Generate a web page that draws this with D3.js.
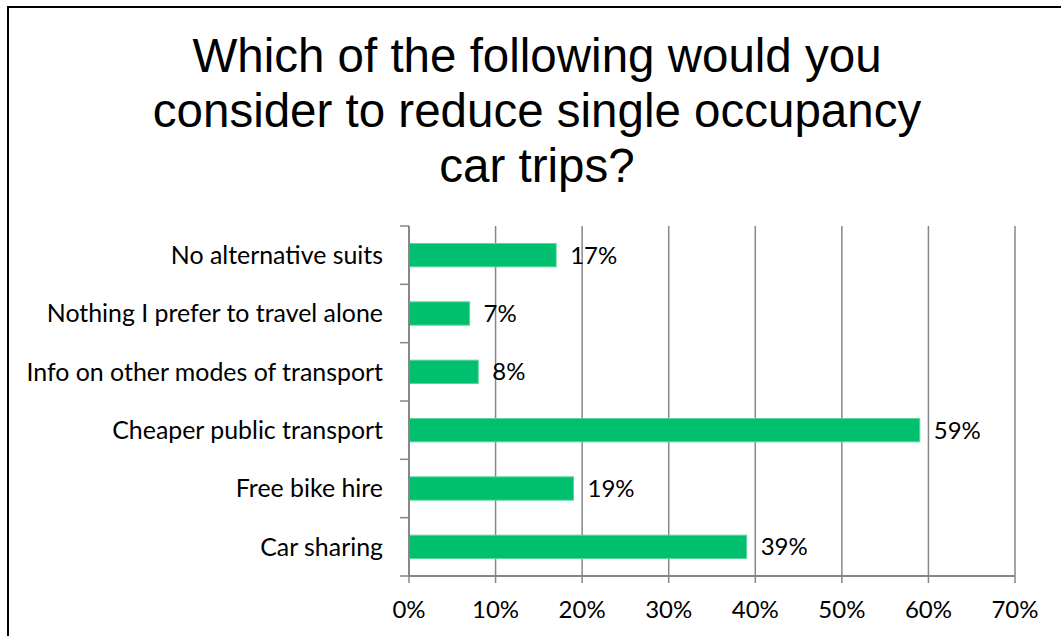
<!DOCTYPE html>
<html>
<head>
<meta charset="utf-8">
<script src="https://cdn.jsdelivr.net/npm/d3@7"></script>
<style>
  html, body { margin: 0; padding: 0; background: #fff; }
  svg { display: block; }
</style>
</head>
<body>
<svg id="chart" width="1061" height="636"></svg>
<script>
// Survey answers, top to bottom as listed
const categories = [
  "No alternative suits",
  "Nothing I prefer to travel alone",
  "Info on other modes of transport",
  "Cheaper public transport",
  "Free bike hire",
  "Car sharing"
];
const shares = [0.17, 0.07, 0.08, 0.59, 0.19, 0.39];
const valueLabels = ["17%", "7%", "8%", "59%", "19%", "39%"];
const xTicks = [0, 0.1, 0.2, 0.3, 0.4, 0.5, 0.6, 0.7];
const titleLines = [
  "Which of the following would you",
  "consider to reduce single occupancy",
  "car trips?"
];

const svg = d3.select("#chart");
const labelFont = "Lato, 'Open Sans', sans-serif";
const gridColor = "#878787";

// Outer frame
svg.append("rect")
  .attr("x", 8).attr("y", 7)
  .attr("width", 1100).attr("height", 700)
  .attr("fill", "none")
  .attr("stroke", "#000")
  .attr("stroke-width", 2);

// Title
svg.append("g")
  .selectAll("text")
  .data(titleLines)
  .join("text")
  .attr("x", 537)
  .attr("y", (d, i) => 72 + i * 55)
  .attr("text-anchor", "middle")
  .attr("font-family", "'Liberation Sans', Arial, sans-serif")
  .attr("font-size", 47.5)
  .attr("fill", "#000")
  .text(d => d);

const x = d3.scaleLinear().domain([0, 0.7]).range([409, 1015]);
const y = d3.scaleBand()
  .domain(categories)
  .range([226, 576])
  .paddingInner(0.6)
  .paddingOuter(0.3);

// Vertical gridlines
svg.append("g")
  .selectAll("line")
  .data(xTicks.slice(1))
  .join("line")
  .attr("x1", d => x(d)).attr("x2", d => x(d))
  .attr("y1", y.range()[0]).attr("y2", y.range()[1])
  .attr("stroke", gridColor)
  .attr("stroke-width", 1.5);

// Bars
svg.append("g")
  .selectAll("rect")
  .data(categories)
  .join("rect")
  .attr("x", x(0))
  .attr("y", d => y(d))
  .attr("width", (d, i) => x(shares[i]) - x(0))
  .attr("height", y.bandwidth())
  .attr("fill", "#00c06f")
  .attr("stroke", "#5cd49c")
  .attr("stroke-width", 1);

// Value labels
svg.append("g")
  .selectAll("text")
  .data(categories)
  .join("text")
  .attr("x", (d, i) => x(shares[i]) + 14)
  .attr("y", d => y(d) + y.bandwidth() / 2)
  .attr("dy", "0.36em")
  .attr("font-family", labelFont)
  .attr("font-size", 24)
  .attr("fill", "#000")
  .text((d, i) => valueLabels[i]);

// Category axis
const yAxis = svg.append("g");
yAxis.append("line")
  .attr("x1", x(0)).attr("x2", x(0))
  .attr("y1", y.range()[0]).attr("y2", y.range()[1])
  .attr("stroke", gridColor).attr("stroke-width", 2);
yAxis.selectAll("line.tick")
  .data(d3.range(categories.length + 1))
  .join("line")
  .attr("class", "tick")
  .attr("x1", x(0) - 9).attr("x2", x(0))
  .attr("y1", i => y.range()[0] + i * y.step())
  .attr("y2", i => y.range()[0] + i * y.step())
  .attr("stroke", gridColor).attr("stroke-width", 1.5);
yAxis.selectAll("text")
  .data(categories)
  .join("text")
  .attr("x", 383)
  .attr("y", d => y(d) + y.bandwidth() / 2)
  .attr("dy", "0.36em")
  .attr("text-anchor", "end")
  .attr("font-family", labelFont)
  .attr("font-size", 24.9)
  .attr("fill", "#000")
  .text(d => d);

// Value axis
const xAxis = svg.append("g");
xAxis.append("line")
  .attr("x1", x(0)).attr("x2", x(0.7))
  .attr("y1", y.range()[1]).attr("y2", y.range()[1])
  .attr("stroke", gridColor).attr("stroke-width", 2);
xAxis.selectAll("line.tick")
  .data(xTicks)
  .join("line")
  .attr("class", "tick")
  .attr("x1", d => x(d)).attr("x2", d => x(d))
  .attr("y1", y.range()[1]).attr("y2", y.range()[1] + 7)
  .attr("stroke", gridColor).attr("stroke-width", 1.5);
xAxis.selectAll("text")
  .data(xTicks)
  .join("text")
  .attr("x", d => x(d))
  .attr("y", 618)
  .attr("text-anchor", "middle")
  .attr("font-family", labelFont)
  .attr("font-size", 24)
  .attr("fill", "#000")
  .text(d3.format(".0%"));
</script>
</body>
</html>
